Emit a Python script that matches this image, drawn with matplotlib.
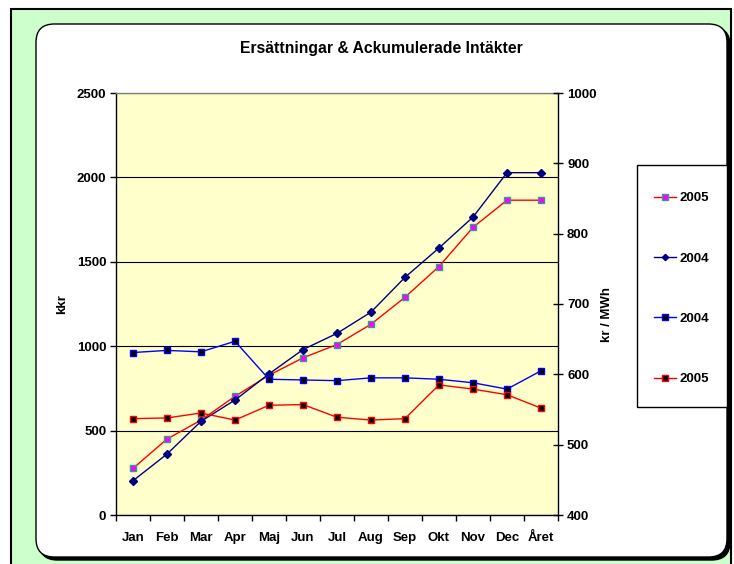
import matplotlib
matplotlib.use("Agg")
import matplotlib.pyplot as plt
from matplotlib.patches import FancyBboxPatch, Rectangle

plt.rcParams['font.family'] = ['Liberation Sans', 'DejaVu Sans']
plt.rcParams['font.weight'] = 'bold'

months = ["Jan", "Feb", "Mar", "Apr", "Maj", "Jun", "Jul", "Aug", "Sep", "Okt", "Nov", "Dec", "Året"]

# ackumulerade intäkter (kkr, vänster axel)
acc2005 = [276, 450, 562, 703, 828, 931, 1010, 1130, 1290, 1472, 1704, 1865, 1865]
acc2004 = [203, 361, 555, 681, 836, 980, 1076, 1202, 1408, 1582, 1765, 2028, 2028]

# ersättning (kr / MWh, höger axel)
pris2004 = [631, 634, 632, 647, 593, 592, 591, 595, 595, 593, 588, 579, 605]
pris2005 = [537, 538, 545, 535, 556, 557, 539, 535, 537, 585, 579, 571, 552]

W, H = 734, 564
fig = plt.figure(figsize=(W / 100, H / 100), dpi=100)
fig.patch.set_facecolor("white")

def fx(x):
    return x / W

def fy(y):
    return 1 - y / H

# green outer frame
fig.patches.append(Rectangle((fx(11), fy(570)), fx(731) - fx(11), fy(9) - fy(570),
                             transform=fig.transFigure, facecolor="#CCFFCC",
                             edgecolor="black", linewidth=1.5, zorder=0))
# shadow of white box
fig.patches.append(FancyBboxPatch((fx(39), fy(560)), fx(730) - fx(39), fy(27) - fy(560),
                                  boxstyle="round,pad=0,rounding_size=0.025",
                                  transform=fig.transFigure, facecolor="black",
                                  edgecolor="black", linewidth=1, zorder=0.5,
                                  mutation_aspect=W / H))
# white box
fig.patches.append(FancyBboxPatch((fx(36), fy(557)), fx(727) - fx(36), fy(24) - fy(557),
                                  boxstyle="round,pad=0,rounding_size=0.025",
                                  transform=fig.transFigure, facecolor="white",
                                  edgecolor="black", linewidth=1, zorder=1,
                                  mutation_aspect=W / H))
# legend box
fig.patches.append(Rectangle((fx(637), fy(407)), fx(727) - fx(637), fy(165) - fy(407),
                             transform=fig.transFigure, facecolor="white",
                             edgecolor="black", linewidth=1, zorder=1.5))

ax = fig.add_axes([fx(116), fy(515), fx(558) - fx(116), fy(93) - fy(515)])
ax.set_facecolor("#FFFFCC")
ax.set_zorder(2)
ax2 = ax.twinx()
ax2.set_zorder(3)

x = list(range(len(months)))

ax.plot(x, acc2005, color="red", lw=1, marker="s", ms=5, mfc="#FF00FF",
        mec="#339999", mew=1, label="2005")
ax.plot(x, acc2004, color="#000080", lw=1, marker="D", ms=4, mfc="#000080",
        mec="#000080", label="2004")
ax2.plot(x, pris2004, color="#0000FF", lw=1, marker="s", ms=5, mfc="black",
         mec="#0000FF", mew=1, label="2004")
ax2.plot(x, pris2005, color="red", lw=1, marker="s", ms=5, mfc="black",
         mec="red", mew=1, label="2005")

ax.set_xlim(-0.5, len(months) - 0.5)
ax.set_ylim(0, 2500)
ax2.set_ylim(400, 1000)
ax.set_yticks([0, 500, 1000, 1500, 2000, 2500])
ax2.set_yticks([400, 500, 600, 700, 800, 900, 1000])

fs = 9.5
ax.set_xticks(x)
ax.set_xticklabels(months)
ax.set_xticks([i - 0.5 for i in range(len(months) + 1)], minor=True)
ax.tick_params(axis="x", which="major", length=0, pad=12, labelsize=fs)
ax.tick_params(axis="x", which="minor", length=4, direction="out", width=1)
ax.tick_params(axis="y", length=4, direction="out", width=1, labelsize=fs, pad=3)
ax2.tick_params(axis="y", length=7, direction="inout", width=1, labelsize=fs, pad=3)

ax.yaxis.grid(True, color="black", lw=0.8)
ax.set_axisbelow(True)

for s in ["left", "bottom"]:
    ax.spines[s].set_color("black")
    ax.spines[s].set_linewidth(1)
ax.spines["top"].set_color("#808080")
ax.spines["top"].set_linewidth(1)
ax.spines["right"].set_visible(False)
ax2.spines["right"].set_color("black")
ax2.spines["right"].set_linewidth(1)
for s in ["left", "top", "bottom"]:
    ax2.spines[s].set_visible(False)

fig.text(fx(62), fy(304), "kkr", rotation=90, ha="center", va="center",
         fontsize=fs, fontweight="bold")
fig.text(fx(607), fy(315), "kr / MWh", rotation=90, ha="center", va="center",
         fontsize=fs, fontweight="bold")

fig.text(fx(381), fy(48), "Ersättningar & Ackumulerade Intäkter", ha="center",
         va="center", fontsize=11.3, fontweight="bold")

h1, l1 = ax.get_legend_handles_labels()
h2, l2 = ax2.get_legend_handles_labels()
leg = fig.legend(h1 + h2, l1 + l2, loc="upper left",
                 bbox_to_anchor=(fx(654), fy(192)),
                 fontsize=fs, frameon=False, handlelength=1.7, handletextpad=0.2,
                 labelspacing=3.65, borderpad=0, markerscale=0.8,
                 borderaxespad=0)
leg.set_zorder(5)

fig.savefig("out.png", dpi=100, facecolor="white")
